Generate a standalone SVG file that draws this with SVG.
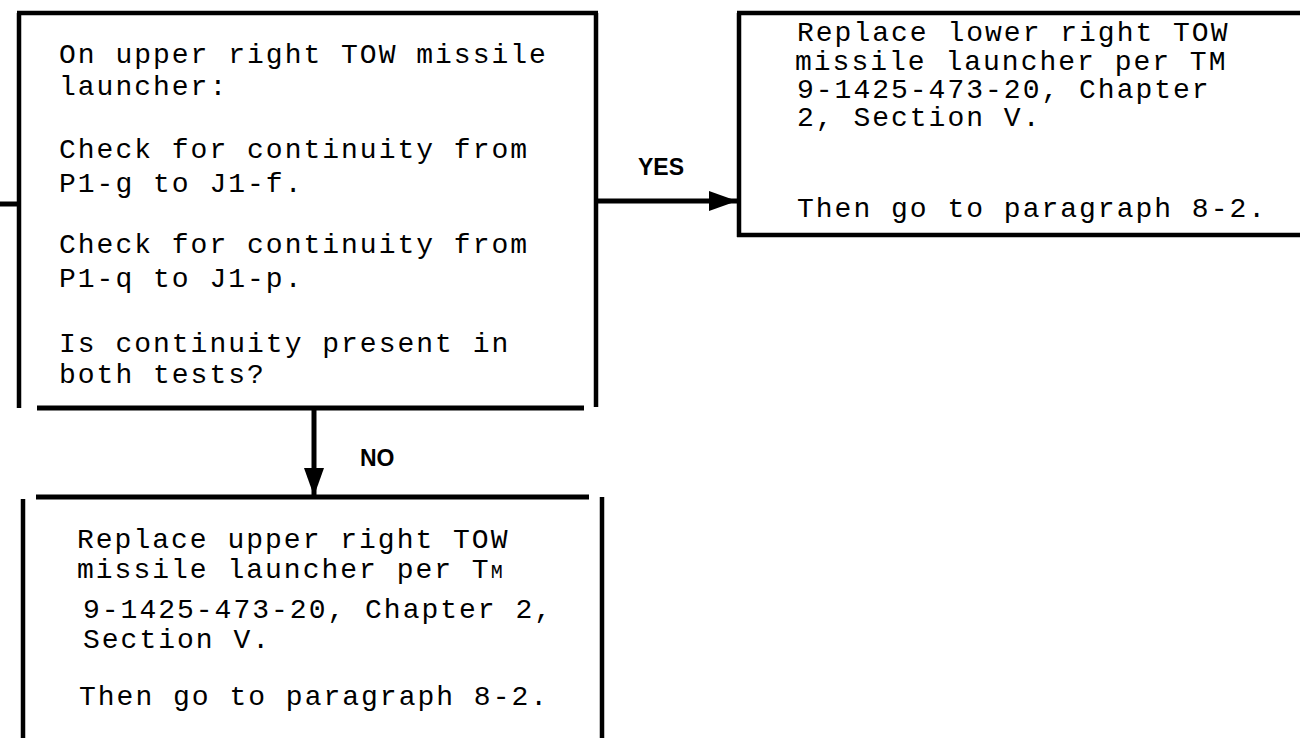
<svg xmlns="http://www.w3.org/2000/svg" width="1300" height="738" viewBox="0 0 1300 738">
<style>
.b{stroke:#000;stroke-width:4.5;fill:none;stroke-linecap:butt}
.t{font-family:"Liberation Mono","Courier New",monospace;font-size:28px;letter-spacing:2px;fill:#000}
.l{font-family:"Liberation Sans",Arial,sans-serif;font-weight:bold;font-size:23px;fill:#000}
.c{stroke:#000;stroke-width:5;fill:none}
</style>
<defs>
<marker id="ah" markerUnits="userSpaceOnUse" markerWidth="30" markerHeight="24" refX="28" refY="10" orient="auto" viewBox="0 0 30 20">
<path d="M0,0 L28,10 L0,20 Z" fill="#000"/>
</marker>
</defs>
<g id="node-check">
<path class="b" d="M17,13 H598 M19,13 V408 M596,13 V407"/>
<path class="c" d="M37,408 H584"/>
<text class="t" x="59" y="63">On upper right TOW missile</text>
<text class="t" x="59" y="95">launcher:</text>
<text class="t" x="59" y="158">Check for continuity from</text>
<text class="t" x="59" y="192">P1-g to J1-f.</text>
<text class="t" x="59" y="253">Check for continuity from</text>
<text class="t" x="59" y="287">P1-q to J1-p.</text>
<text class="t" x="59" y="352">Is continuity present in</text>
<text class="t" x="59" y="383">both tests?</text>
</g>
<g id="node-lower">
<path class="b" d="M737,13 H1300 M739,13 V237 M737,235 H1300"/>
<text class="t" x="797" y="41">Replace lower right TOW</text>
<text class="t" x="795" y="70">missile launcher per TM</text>
<text class="t" x="797" y="98">9-1425-473-20, Chapter</text>
<text class="t" x="797" y="126">2, Section V.</text>
<text class="t" x="797" y="217">Then go to paragraph 8-2.</text>
</g>
<g id="node-upper">
<path class="c" d="M36,497 H589"/>
<path class="b" d="M23,499 V738 M602,497 V738"/>
<text class="t" x="77" y="548">Replace upper right TOW</text>
<text class="t" x="77" y="578">missile launcher per T<tspan font-size="20">M</tspan></text>
<text class="t" x="83" y="618">9-1425-473-20, Chapter 2,</text>
<text class="t" x="83" y="648">Section V.</text>
<text class="t" x="79" y="705">Then go to paragraph 8-2.</text>
</g>
<g id="connectors">
<path class="c" d="M0,204 H19"/>
<path class="c" d="M596,201 H737" marker-end="url(#ah)"/>
<path class="c" d="M314,408 V496" marker-end="url(#ah)"/>
<text class="l" x="638" y="175" font-size="22">YES</text>
<text class="l" x="360" y="466" font-size="25">NO</text>
</g>
</svg>
